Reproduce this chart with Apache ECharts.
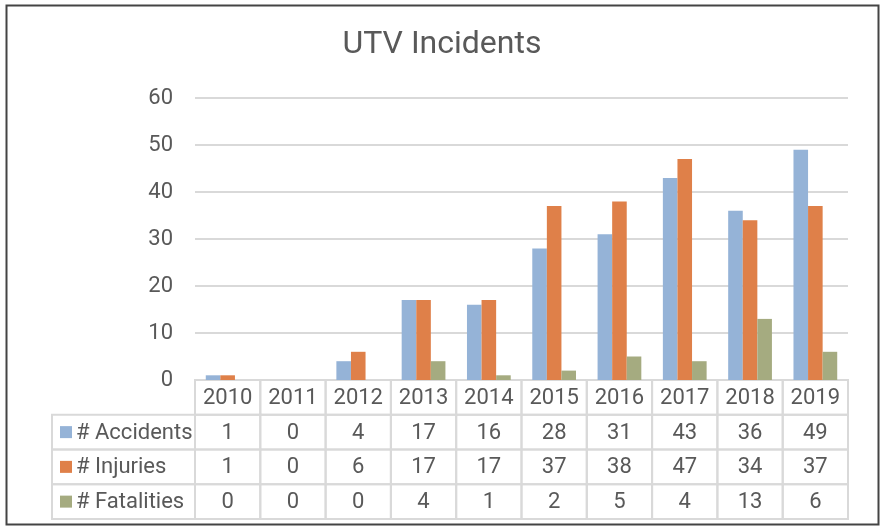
<!DOCTYPE html>
<html>
<head>
<meta charset="utf-8">
<script src="https://cdn.jsdelivr.net/npm/echarts@6/dist/echarts.min.js"></script>
<style>
html,body{margin:0;padding:0;background:#fff;}
#chart{width:884px;height:532px;}
</style>
</head>
<body>
<div id="chart"></div>
<script>
const years = ['2010','2011','2012','2013','2014','2015','2016','2017','2018','2019'];
const accidents = [1,0,4,17,16,28,31,43,36,49];
const injuries = [1,0,6,17,17,37,38,47,34,37];
const fatalities = [0,0,0,4,1,2,5,4,13,6];
const seriesNames = ['# Accidents','# Injuries','# Fatalities'];
const seriesColors = ['#95b3d7','#df8049','#a5ab80'];
const yTicks = [0,10,20,30,40,50,60];

const FONT = 'Roboto, "Open Sans", sans-serif';
const TEXT = '#595959';
const LINE = '#d9d9d9';
const LABEL_W = 143;

// table cells built from the data arrays
const seriesData = [accidents, injuries, fatalities];
const cells = [];
years.forEach((y, c) => cells.push({c: c, r: 0, text: y}));
seriesData.forEach((arr, i) => {
  cells.push({c: 0, r: i + 1, text: seriesNames[i], label: true, color: seriesColors[i]});
  arr.forEach((v, c) => cells.push({c: c, r: i + 1, text: String(v)}));
});

const chart = echarts.init(document.getElementById('chart'));
chart.setOption({
  animation: false,
  backgroundColor: '#fff',
  title: {
    text: 'UTV Incidents',
    left: 'center',
    top: 24,
    textStyle: {fontFamily: FONT, fontSize: 32, fontWeight: 'normal', color: TEXT}
  },
  grid: [
    {left: 195, right: 36, top: 98, height: 282},
    {left: 195, right: 36, top: 380, height: 139}
  ],
  xAxis: [
    {type: 'category', gridIndex: 0, data: years,
     axisLine: {show: false}, axisTick: {show: false}, axisLabel: {show: false}},
    {type: 'category', gridIndex: 1, data: years, show: false}
  ],
  yAxis: [
    {type: 'value', gridIndex: 0, min: yTicks[0], max: yTicks[yTicks.length - 1], interval: 10,
     axisLine: {show: false}, axisTick: {show: false},
     axisLabel: {fontFamily: FONT, fontSize: 22, color: TEXT, margin: 22},
     splitLine: {lineStyle: {color: LINE, width: 2}}},
    {type: 'category', gridIndex: 1, inverse: true, data: ['year'].concat(seriesNames), show: false}
  ],
  series: [
    {name: seriesNames[0], type: 'bar', xAxisIndex: 0, yAxisIndex: 0, data: accidents,
     itemStyle: {color: seriesColors[0]}, barGap: '0%', barCategoryGap: '33%'},
    {name: seriesNames[1], type: 'bar', xAxisIndex: 0, yAxisIndex: 0, data: injuries,
     itemStyle: {color: seriesColors[1]}, barGap: '0%', barCategoryGap: '33%'},
    {name: seriesNames[2], type: 'bar', xAxisIndex: 0, yAxisIndex: 0, data: fatalities,
     itemStyle: {color: seriesColors[2]}, barGap: '0%', barCategoryGap: '33%'},
    {
      type: 'custom', xAxisIndex: 1, yAxisIndex: 1, clip: false,
      data: cells.map(d => [d.c, d.r]),
      renderItem: function (params, api) {
        const cell = cells[params.dataIndex];
        const p = api.coord([api.value(0), api.value(1)]);
        const s = api.size([1, 1]);
        if (cell.label) {
          const x0 = p[0] - s[0] / 2 - LABEL_W;
          return {
            type: 'group',
            children: [
              {type: 'rect', shape: {x: x0, y: p[1] - s[1] / 2, width: LABEL_W, height: s[1]},
               style: {fill: 'none', stroke: LINE, lineWidth: 2}},
              {type: 'rect', shape: {x: x0 + 8, y: p[1] - 6, width: 12, height: 12},
               style: {fill: cell.color}},
              {type: 'text', style: {text: cell.text, x: x0 + 24, y: p[1] + 1, fill: TEXT,
               fontFamily: FONT, fontSize: 22, align: 'left', verticalAlign: 'middle'}}
            ]
          };
        }
        return {
          type: 'group',
          children: [
            {type: 'rect', shape: {x: p[0] - s[0] / 2, y: p[1] - s[1] / 2, width: s[0], height: s[1]},
             style: {fill: 'none', stroke: LINE, lineWidth: 2}},
            {type: 'text', style: {text: cell.text, x: p[0], y: p[1] + 1, fill: TEXT,
             fontFamily: FONT, fontSize: 22, align: 'center', verticalAlign: 'middle'}}
          ]
        };
      }
    }
  ],
  graphic: [
    {type: 'rect', left: 4, top: 3, z: 100, silent: true,
     shape: {width: 872, height: 519}, style: {fill: 'none', stroke: '#444', lineWidth: 2}}
  ]
});
</script>
</body>
</html>
